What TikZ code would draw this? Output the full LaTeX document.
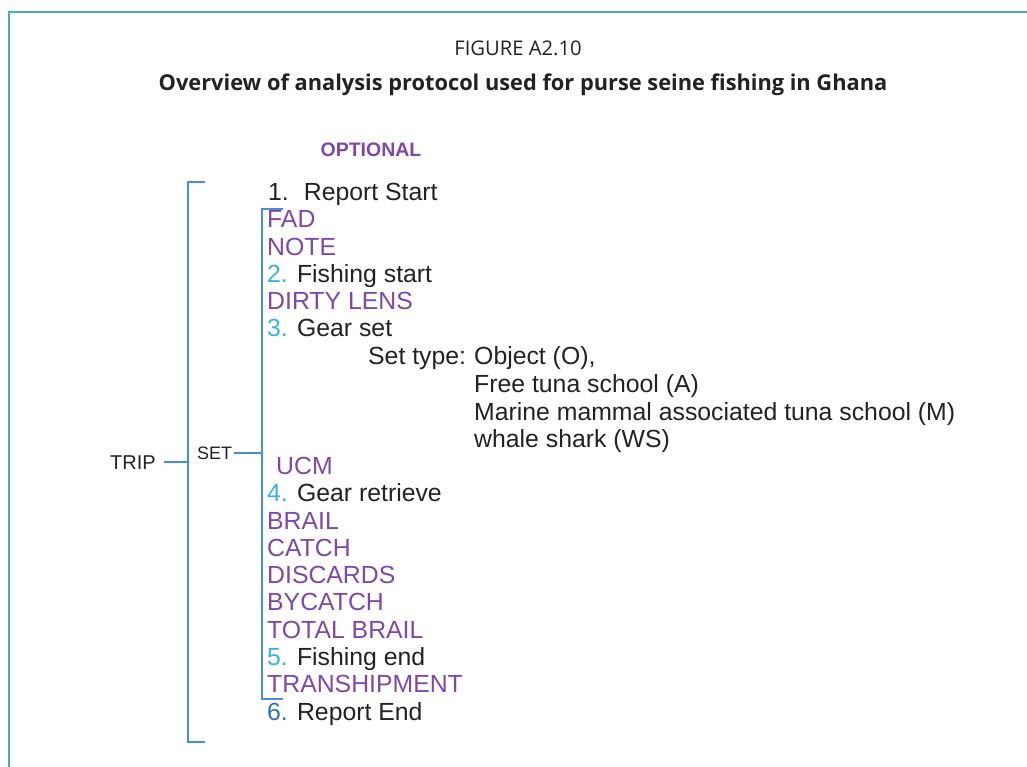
\documentclass[tikz,border=0pt]{standalone}
\usepackage{fontspec}
\setmainfont{Liberation Sans}
\newfontfamily\titlefont{Open Sans}
\definecolor{optpurple}{RGB}{126,72,166}
\definecolor{numblue}{RGB}{56,178,228}
\definecolor{endblue}{RGB}{46,112,182}
\definecolor{brblue}{RGB}{72,142,212}
\definecolor{frameteal}{RGB}{72,176,168}
\definecolor{inkgray}{RGB}{34,34,34}
\begin{document}
\begin{tikzpicture}[
    x=1pt, y=-1pt,
    item/.style={anchor=base west, inner sep=0pt, text=inkgray, font=\fontsize{24.8}{28}\selectfont},
    opt/.style={item, text=optpurple},
    settype/.style={item, font=\fontsize{24.8}{28}\selectfont},
    bracket/.style={draw=brblue, line width=1.6pt},
    title/.style={inner sep=0pt, text=inkgray, font=\titlefont\fontsize{20.2}{25}\selectfont}
]
\useasboundingbox (0,0) rectangle (1027,767);
\draw[frameteal, line width=1.5pt] (9,767) -- (9,12) -- (1027,12);

%==========================
% Title
%==========================
\node[title, anchor=base] (fig) at (518,56) {FIGURE A2.10};
\node[title, anchor=base, font=\titlefont\bfseries\fontsize{21.8}{25}\selectfont] (caption) at (523,91)
{Overview of analysis protocol used for purse seine fishing in Ghana};

\node[opt, anchor=base, font=\bfseries\fontsize{19.5}{22}\selectfont] (optional) at (371,157) {OPTIONAL};

%==========================
% TRIP / SET
%==========================
\node[item, font=\fontsize{20}{22}\selectfont] (trip) at (110,469) {TRIP};
\node[item, font=\fontsize{18}{20}\selectfont] (set) at (197,459) {SET};

\coordinate (tripbr) at (188,462);
\coordinate (setbr) at (262,453);
\draw[bracket] (205,182) -- (188,182) -- (188,742) -- (205,742);
\draw[bracket] (283,209) -- (262,209) -- (262,699) -- (283,699);
\draw[bracket] ([xshift=8pt]trip.east |- tripbr) -- (tripbr);
\draw[bracket] ([xshift=2pt]set.east |- setbr) -- (setbr);

%==========================
% Steps
%==========================
\node[item] (s1) at (268,201) {1.\hspace{15pt}Report Start};
\node[opt] (fad) at (267,228) {FAD};
\node[opt] (note) at (267,255) {NOTE};
\node[item] (s2) at (267,282) {{\color{numblue}2.} Fishing start};
\node[opt] (lens) at (267,309) {DIRTY LENS};
\node[item] (s3) at (267,336) {{\color{numblue}3.} Gear set};

\node[settype] (stype) at (368,364) {Set type:};
\node[settype] (t1) at (474,364) {Object (O),};
\node[settype] (t2) at (474,392) {Free tuna school (A)};
\node[settype] (t3) at (474,420) {Marine mammal associated tuna school (M)};
\node[settype] (t4) at (474,447) {whale shark (WS)};

\node[opt] (ucm) at (276,474) {UCM};
\node[item] (s4) at (267,501) {{\color{numblue}4.} Gear retrieve};
\node[opt] (brail) at (267,529) {BRAIL};
\node[opt] (catch) at (267,556) {CATCH};
\node[opt] (disc) at (267,583) {DISCARDS};
\node[opt] (bycatch) at (267,610) {BYCATCH};
\node[opt] (total) at (267,638) {TOTAL BRAIL};
\node[item] (s5) at (267,665) {{\color{numblue}5.} Fishing end};
\node[opt] (tranship) at (267,692) {TRANSHIPMENT};
\node[item] (s6) at (267,720) {{\color{endblue}6.} Report End};

\end{tikzpicture}
\end{document}
